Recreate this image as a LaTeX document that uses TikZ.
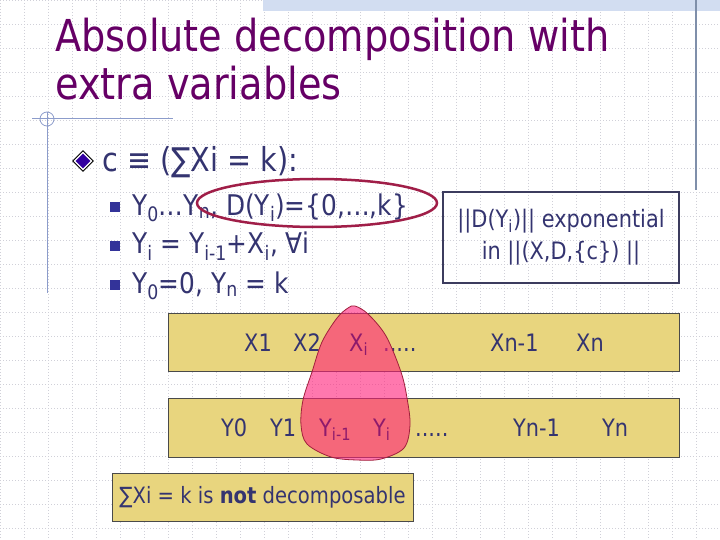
\documentclass[tikz,border=0pt]{standalone}
\usepackage{fontspec}
\setmainfont{DejaVu Sans}[FakeStretch=0.87]
\usetikzlibrary{shapes.geometric}
\definecolor{titlec}{HTML}{660066}
\definecolor{bodyc}{HTML}{343470}
\definecolor{bulc}{HTML}{333399}
\definecolor{gridc}{HTML}{D0D0D8}
\definecolor{linec}{HTML}{8C9CCB}
\definecolor{rlinec}{HTML}{7F8FAA}
\definecolor{bandc}{HTML}{D2DDF1}
\definecolor{barc}{HTML}{E8D57E}
\definecolor{barline}{HTML}{4A4A4A}
\definecolor{ellc}{HTML}{A01E48}
\definecolor{blobc}{HTML}{FF1E78}
\definecolor{blobline}{HTML}{A0203C}
\definecolor{hic}{HTML}{8E1A6C}
\definecolor{diac}{HTML}{3300A0}
\definecolor{boxline}{HTML}{3C3C5E}
\tikzset{
 txt/.style={anchor=base west, inner sep=0pt, text=bodyc},
 ttl/.style={txt, text=titlec, font=\fontsize{44}{48}\selectfont},
 lvlone/.style={txt, font=\fontsize{33}{38}\selectfont},
 lvltwo/.style={txt, font=\fontsize{28.5}{34}\selectfont},
 bartxt/.style={txt, font=\fontsize{24}{28}\selectfont},
 hitxt/.style={bartxt, text=hic},
 bar/.style={draw=barline, fill=barc, line width=0.8pt, inner sep=0pt},
 sqbul/.style={fill=bulc, minimum size=10pt, inner sep=0pt},
 gridline/.style={gridc, line width=0.6pt, dash pattern=on 1pt off 2pt},
}
\begin{document}
\begin{tikzpicture}[x=1pt,y=-1pt]
\useasboundingbox (0,0) rectangle (720,540);
\fill[white] (0,0) rectangle (720,540);
\foreach \k in {0,...,29} \draw[gridline] ({24*\k+0.7},0) -- ({24*\k+0.7},540);
\foreach \k in {0,...,22} \draw[gridline] (0,{24*\k+0.7}) -- (720,{24*\k+0.7});
\fill[bandc] (263,0) rectangle (720,11);
\draw[rlinec, line width=1.3pt] (696,0) -- (696,190);
\draw[linec, line width=1pt] (32,119) -- (173,119);
\draw[linec, line width=1pt] (47,112) -- (47,293);
\draw[linec, line width=0.8pt] (47,119) circle [radius=7];

% title
\node[ttl] (t1) at (55,52) {Absolute decomposition with};
\node[ttl] (t2) at (55,100) {extra variables};

% level one
\node[diamond, fill=black, minimum size=22pt, inner sep=0pt] (d0) at (83,161) {};
\node[diamond, fill=white, minimum size=19pt, inner sep=0pt] (d1) at (83,161) {};
\node[diamond, fill=diac, minimum size=15pt, inner sep=0pt] (d2) at (83,161) {};
\node[lvlone] (c) at (102,172) {c ≡ (∑Xi = k):};

% level two
\node[sqbul] (b1) at (115,207) {};
\node[sqbul] (b2) at (115,246) {};
\node[sqbul] (b3) at (115,285) {};
\node[lvltwo] (l1) at (132,215) {Y\textsubscript{0}…Y\textsubscript{n}, D(Y\textsubscript{i})=\{0,…,k\}};
\node[lvltwo] (l2) at (132,254) {Y\textsubscript{i} = Y\textsubscript{i-1}+X\textsubscript{i}, ∀i};
\node[lvltwo] (l3) at (132,293) {Y\textsubscript{0}=0, Y\textsubscript{n} = k};

% ellipse
\node[ellipse, draw=ellc, line width=2.5pt, minimum width=240pt, minimum height=48pt, inner sep=0pt] (ell) at (317,203) {};

% box
\node[draw=boxline, line width=2pt, minimum width=236pt, minimum height=91pt, align=center, text=bodyc, font=\fontsize{24}{32}\selectfont, inner sep=0pt] (expbox) at (561,237.5) {||D(Y\textsubscript{i})|| exponential\\in ||(X,D,\{c\}) ||};

% bars
\node[bar, minimum width=511pt, minimum height=58pt] (xbar) at (423.5,342) {};
\node[bar, minimum width=511pt, minimum height=59pt] (ybar) at (423.5,427.5) {};

\node[bartxt] (x1) at (244,351) {X1};
\node[bartxt] (x2) at (293,351) {X2};
\node[bartxt] (xd) at (383,351) {.....};
\node[bartxt] (xn1) at (490,351) {Xn-1};
\node[bartxt] (xn) at (576,351) {Xn};
\node[bartxt] (y0) at (221,436) {Y0};
\node[bartxt] (y1) at (270,436) {Y1};
\node[bartxt] (yd) at (415,436) {.....};
\node[bartxt] (yn1) at (513,436) {Yn-1};
\node[bartxt] (yn) at (602,436) {Yn};

% blob
\filldraw[fill=blobc, fill opacity=0.6, draw=blobline, line width=0.8pt]
  plot[smooth cycle, tension=0.55] coordinates {(355,306) (368,314) (386,336) (401,372) (407,398) (410,425) (404,448) (381,459) (357,460) (331,457) (307,444) (301,425) (303,400) (312,372) (322,342) (337,318) (348,308)};

\node[hitxt] (xi) at (349,351) {X\textsubscript{i}};
\node[hitxt] (yim) at (319,436) {Y\textsubscript{i-1}};
\node[hitxt] (yi) at (373,436) {Y\textsubscript{i}};

% bottom box
\node[bar, minimum width=301pt, minimum height=48pt, text=bodyc, font=\fontsize{22.5}{26}\selectfont] (nd) at (262.5,497) {∑Xi = k is \textbf{not} decomposable};
\end{tikzpicture}
\end{document}
